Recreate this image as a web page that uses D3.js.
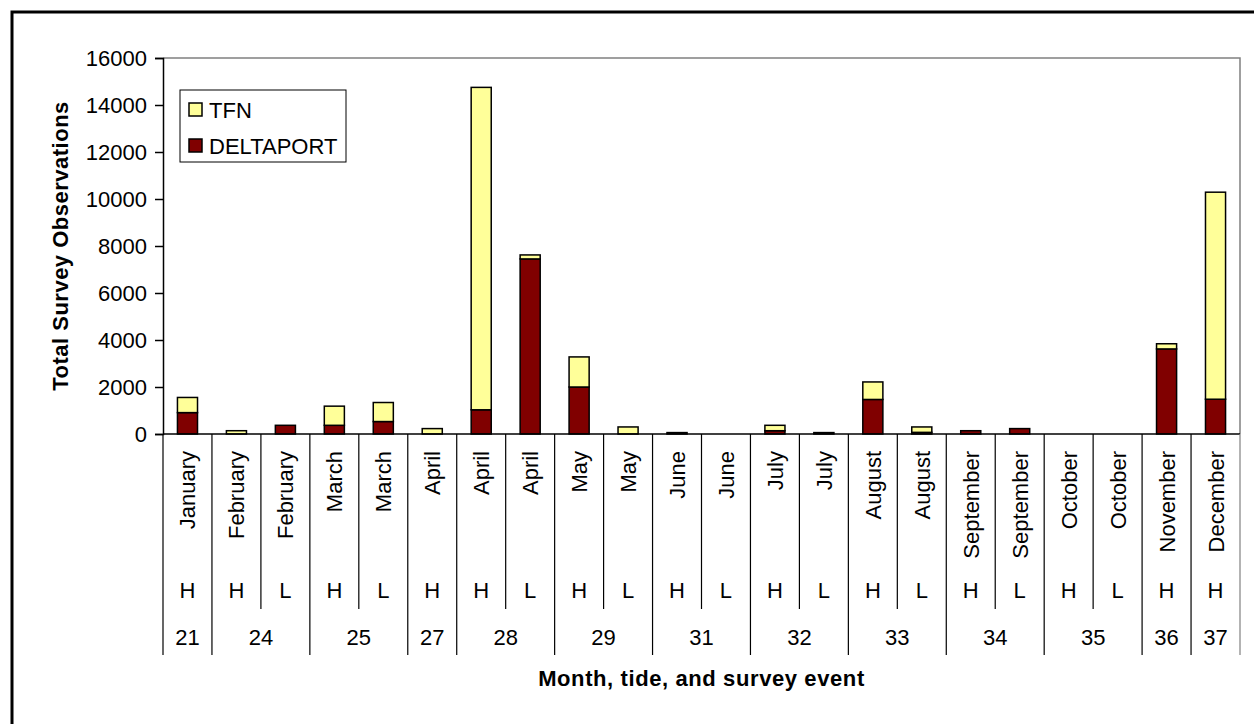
<!DOCTYPE html>
<html>
<head>
<meta charset="utf-8">
<script src="https://cdn.jsdelivr.net/npm/d3@7"></script>
<style>
  html, body { margin: 0; padding: 0; background: #fff; }
  svg { display: block; font-family: "Liberation Sans", Arial, sans-serif; }
</style>
</head>
<body>
<svg id="chart" width="1254" height="724"></svg>
<script>
const months = ["January","February","February","March","March","April","April","April","May","May","June","June","July","July","August","August","September","September","October","October","November","December"];
const tides = ["H","H","L","H","L","H","H","L","H","L","H","L","H","L","H","L","H","L","H","L","H","H"];
const events = ["21","24","24","25","25","27","28","28","29","29","31","31","32","32","33","33","34","34","35","35","36","37"];
const deltaport = [910, 0, 370, 370, 530, 0, 1030, 7450, 2000, 0, 60, 0, 140, 60, 1470, 70, 140, 230, 0, 0, 3620, 1480];
const tfn = [645, 140, 0, 815, 810, 230, 13720, 170, 1280, 300, 0, 0, 230, 0, 745, 230, 0, 0, 0, 0, 220, 8810];
const yTicks = [0, 2000, 4000, 6000, 8000, 10000, 12000, 14000, 16000];
const seriesNames = ["TFN", "DELTAPORT"];
const seriesColors = {"TFN": "#FFFF99", "DELTAPORT": "#800000"};

const svg = d3.select("#chart");
const pLeft = 163, pRight = 1240, pTop = 58, pBottom = 434;
const idx = d3.range(months.length);
const fs = 22;

const y = d3.scaleLinear().domain([0, 16000]).range([pBottom, pTop]);
const xCell = d3.scaleBand().domain(idx).range([pLeft, pRight]).padding(0);
const xBar = d3.scaleBand().domain(idx).range([pLeft, pRight]).paddingInner(0.59).paddingOuter(0.295);

// outer frame
svg.append("rect").attr("x", 12).attr("y", 12).attr("width", 1300).attr("height", 800)
  .attr("fill", "none").attr("stroke", "#000").attr("stroke-width", 3);

// plot frame (top & right grey)
svg.append("path").attr("d", `M${pLeft},${pTop}H${pRight}V${pBottom}`)
  .attr("fill", "none").attr("stroke", "#808080").attr("stroke-width", 1.5);

// bars
const rows = idx.map(i => ({i, DELTAPORT: deltaport[i], TFN: tfn[i]}));
const stack = d3.stack().keys(["DELTAPORT", "TFN"])(rows);
stack.forEach(layer => {
  svg.append("g").selectAll("rect")
    .data(layer.filter(d => d[1] - d[0] > 0))
    .join("rect")
    .attr("x", d => xBar(d.data.i))
    .attr("width", xBar.bandwidth())
    .attr("y", d => y(d[1]))
    .attr("height", d => y(d[0]) - y(d[1]))
    .attr("fill", seriesColors[layer.key])
    .attr("stroke", "#000")
    .attr("stroke-width", 1.5);
});

// y axis
const yAxis = svg.append("g").attr("transform", `translate(${pLeft},0)`)
  .call(d3.axisLeft(y).tickValues(yTicks).tickSize(8).tickPadding(8).tickFormat(d3.format("d")));
yAxis.select(".domain").attr("stroke", "#000").attr("stroke-width", 1.5);
yAxis.selectAll(".tick line").attr("stroke", "#000").attr("stroke-width", 1.5);
yAxis.selectAll(".tick text").attr("font-size", fs).attr("fill", "#000")
  .attr("font-family", "Liberation Sans, Arial, sans-serif");

// x axis line
svg.append("line").attr("x1", pLeft).attr("x2", pRight).attr("y1", pBottom).attr("y2", pBottom)
  .attr("stroke", "#000").attr("stroke-width", 1.5);

// category separators
const innerEnd = 609, outerEnd = 655;
const bounds = d3.range(months.length + 1);
svg.append("g").selectAll("line").data(bounds).join("line")
  .attr("x1", b => b < months.length ? xCell(b) : pRight)
  .attr("x2", b => b < months.length ? xCell(b) : pRight)
  .attr("y1", pBottom)
  .attr("y2", b => (b === 0 || b === months.length || events[b] !== events[b - 1]) ? outerEnd : innerEnd)
  .attr("stroke", b => b === months.length ? "#808080" : "#000")
  .attr("stroke-width", 1.2);

// month labels
svg.append("g").selectAll("text").data(idx).join("text")
  .attr("transform", i => `translate(${xCell(i) + xCell.bandwidth() / 2 + 8},451) rotate(-90)`)
  .attr("text-anchor", "end")
  .attr("font-size", fs)
  .text(i => months[i]);

// tide labels
svg.append("g").selectAll("text").data(idx).join("text")
  .attr("x", i => xCell(i) + xCell.bandwidth() / 2)
  .attr("y", 598)
  .attr("text-anchor", "middle")
  .attr("font-size", fs)
  .text(i => tides[i]);

// event labels
const groups = [];
idx.forEach(i => {
  if (i === 0 || events[i] !== events[i - 1]) groups.push({ev: events[i], s: i, e: i});
  else groups[groups.length - 1].e = i;
});
svg.append("g").selectAll("text").data(groups).join("text")
  .attr("x", g => (xCell(g.s) + xCell(g.e) + xCell.bandwidth()) / 2)
  .attr("y", 645)
  .attr("text-anchor", "middle")
  .attr("font-size", fs)
  .text(g => g.ev);

// axis titles
svg.append("text").attr("x", (pLeft + pRight) / 2).attr("y", 686)
  .attr("text-anchor", "middle").attr("font-size", 22).attr("font-weight", "bold")
  .attr("letter-spacing", 0.6)
  .text("Month, tide, and survey event");
svg.append("text").attr("transform", `translate(68,${(pTop + pBottom) / 2}) rotate(-90)`)
  .attr("text-anchor", "middle").attr("font-size", 22).attr("font-weight", "bold")
  .attr("letter-spacing", 0.5)
  .text("Total Survey Observations");

// legend
const lg = svg.append("g");
lg.append("rect").attr("x", 180).attr("y", 90).attr("width", 166).attr("height", 72)
  .attr("fill", "#fff").attr("stroke", "#000").attr("stroke-width", 1);
seriesNames.forEach((name, k) => {
  const yy = 110 + k * 36;
  lg.append("rect").attr("x", 189).attr("y", yy - 7).attr("width", 13).attr("height", 13)
    .attr("fill", seriesColors[name]).attr("stroke", "#000").attr("stroke-width", 1.5);
  lg.append("text").attr("x", 209).attr("y", yy + 7.5).attr("font-size", fs).text(name);
});
</script>
</body>
</html>
